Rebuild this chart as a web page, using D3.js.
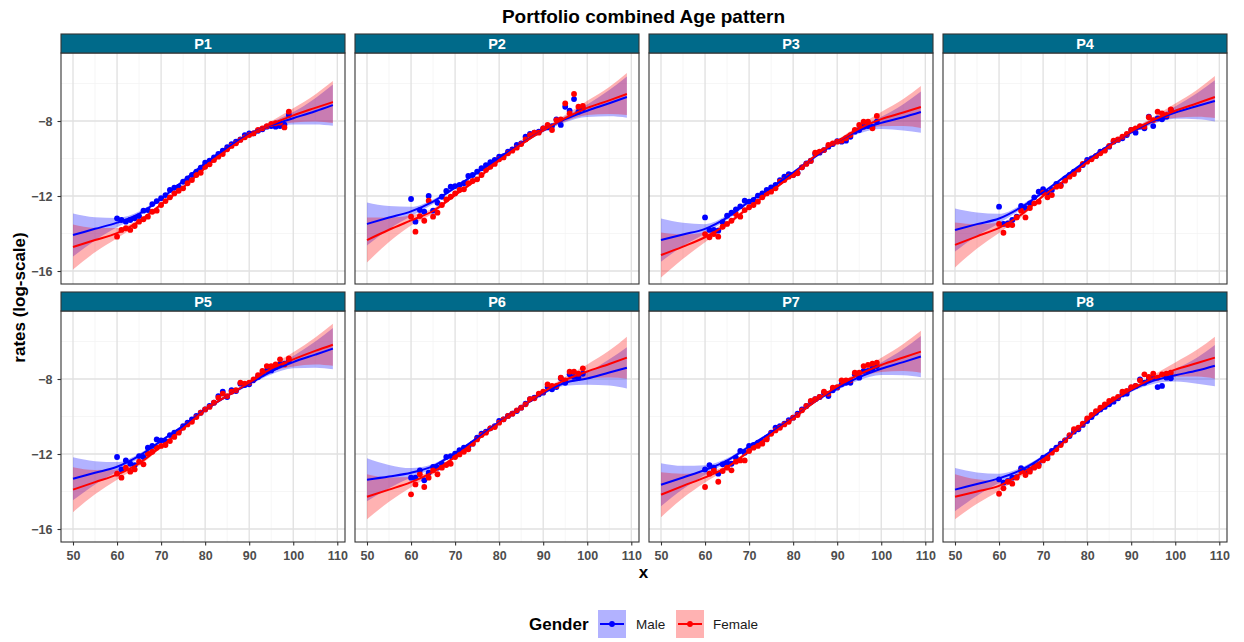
<!DOCTYPE html>
<html>
<head>
<meta charset="utf-8">
<script src="https://d3js.org/d3.v7.min.js"></script>
<style>
  body { margin: 0; background: #fff; }
  text { font-family: "Liberation Sans", Arial, sans-serif; }
</style>
</head>
<body>
<div id="chart"></div>
<script>

// ages of the observed points
var ages = [60,61,62,63,64,65,66,67,68,69,70,71,72,73,74,75,76,77,78,79,
            80,81,82,83,84,85,86,87,88,89,90,91,92,93,94,95,96,97,98,99];

// observed log rates per portfolio
var p1Male   = [-13.19,-13.28,-13.37,-13.28,-13.19,-13.07,-12.78,-12.75,-12.43,-12.27,-12.12,-11.95,-11.68,-11.56,-11.5,-11.24,-11.06,-10.88,-10.7,-10.49,
                -10.22,-10.12,-9.94,-9.76,-9.58,-9.4,-9.24,-9.1,-8.98,-8.75,-8.66,-8.66,-8.52,-8.44,-8.3,-8.27,-8.3,-8.27,-8.2,-7.68];
var p1Female = [-14.17,-13.81,-13.72,-13.81,-13.6,-13.37,-13.24,-13.1,-12.84,-12.78,-12.48,-12.27,-12.07,-11.86,-11.72,-11.59,-11.32,-11.15,-10.88,-10.76,
                -10.44,-10.31,-10.08,-9.9,-9.76,-9.51,-9.33,-9.19,-9.01,-8.87,-8.75,-8.66,-8.48,-8.39,-8.27,-8.16,-8.12,-8.09,-8.34,-7.5];
var p2Male   = [-12.16,-13.37,-12.75,-12.84,-12.0,-12.78,-12.36,-12.04,-11.73,-11.5,-11.47,-11.41,-11.32,-10.93,-10.88,-10.7,-10.52,-10.35,-10.2,-10.08,
                -9.9,-9.87,-9.64,-9.51,-9.28,-9.19,-8.84,-8.69,-8.62,-8.57,-8.39,-8.34,-8.27,-7.91,-8.21,-7.24,-7.45,-6.83,-7.5,-7.32];
var p2Female = [-13.1,-13.9,-13.07,-13.32,-12.25,-13.1,-12.89,-12.48,-12.18,-12.04,-11.86,-11.68,-11.64,-11.32,-11.2,-11.11,-10.88,-10.61,-10.44,-10.29,
                -10.04,-9.94,-9.72,-9.58,-9.42,-9.23,-8.98,-8.75,-8.62,-8.62,-8.39,-8.21,-8.48,-7.95,-7.91,-7.06,-7.59,-6.56,-7.24,-7.2];
var p3Male   = [-13.14,-13.81,-13.81,-13.85,-13.4,-13.05,-12.89,-12.71,-12.55,-12.25,-12.3,-12.21,-11.98,-11.86,-11.68,-11.54,-11.41,-11.15,-10.97,-10.83,
                -10.88,-10.76,-10.47,-10.26,-10.12,-9.76,-9.69,-9.55,-9.37,-9.23,-9.07,-9.1,-9.05,-8.84,-8.57,-8.48,-8.3,-8.27,-8.3,-8.04];
var p3Female = [-14.03,-14.2,-14.03,-14.17,-13.64,-13.49,-13.32,-12.96,-13.1,-12.75,-12.6,-12.48,-12.3,-12.07,-11.86,-11.77,-11.59,-11.24,-11.15,-10.97,
                -10.88,-10.79,-10.47,-10.29,-10.13,-9.69,-9.64,-9.55,-9.28,-9.19,-9.1,-9.05,-8.92,-8.75,-8.48,-8.21,-8.04,-8.04,-8.39,-7.73];
var p4Male   = [-12.57,-13.49,-13.46,-13.28,-13.1,-12.53,-12.64,-12.39,-12.07,-11.77,-11.64,-11.82,-11.68,-11.36,-11.41,-11.06,-10.88,-10.7,-10.58,-10.35,
                -10.08,-9.99,-9.87,-9.64,-9.55,-9.37,-9.1,-9.01,-8.92,-8.75,-8.48,-8.62,-8.3,-8.39,-7.77,-8.27,-7.86,-7.91,-7.77,-7.41];
var p4Female = [-13.49,-13.96,-13.55,-13.55,-13.14,-12.78,-13.14,-12.64,-12.39,-12.3,-11.82,-12.07,-11.95,-11.5,-11.47,-11.18,-10.97,-10.83,-10.58,-10.29,
                -10.17,-10.04,-9.87,-9.72,-9.58,-9.33,-9.05,-8.98,-8.84,-8.69,-8.48,-8.39,-8.27,-8.3,-7.8,-7.95,-7.5,-7.59,-7.68,-7.38];
var p5Male   = [-12.16,-12.82,-12.34,-12.52,-12.59,-12.11,-12.16,-11.66,-11.57,-11.22,-11.27,-11.31,-10.99,-10.86,-10.81,-10.51,-10.33,-10.15,-9.97,-9.8,
                -9.62,-9.44,-9.26,-8.91,-8.68,-8.96,-8.6,-8.64,-8.25,-8.32,-8.28,-8.07,-7.89,-7.72,-7.54,-7.54,-7.36,-7.22,-7.18,-7.04];
var p5Female = [-13.05,-13.26,-12.73,-12.94,-12.82,-12.41,-12.55,-11.98,-11.88,-11.66,-11.57,-11.52,-11.31,-11.09,-10.86,-10.6,-10.42,-10.28,-10.03,-9.8,
                -9.62,-9.49,-9.26,-9.0,-8.78,-8.91,-8.68,-8.6,-8.2,-8.25,-8.2,-8.02,-7.79,-7.57,-7.31,-7.31,-7.22,-6.95,-7.22,-6.9];
var p6Male   = [-13.26,-13.26,-12.87,-13.4,-13.0,-12.69,-12.73,-12.52,-12.16,-12.11,-11.98,-11.8,-11.66,-11.63,-11.45,-11.13,-10.92,-10.81,-10.63,-10.51,
                -10.24,-10.15,-9.97,-9.85,-9.71,-9.53,-9.32,-9.08,-9.0,-8.82,-8.73,-8.43,-8.55,-8.43,-7.96,-8.2,-7.75,-7.89,-7.93,-7.72];
var p6Female = [-14.15,-13.62,-13.08,-13.76,-13.26,-12.87,-13.08,-12.73,-12.59,-12.52,-12.16,-12.02,-11.88,-11.75,-11.45,-11.22,-10.99,-10.86,-10.63,-10.56,
                -10.33,-10.15,-9.97,-9.85,-9.67,-9.53,-9.35,-9.08,-9.03,-8.78,-8.68,-8.29,-8.37,-8.37,-7.93,-8.07,-7.61,-7.61,-7.72,-7.43];
var p7Male   = [-12.82,-12.59,-12.73,-13.05,-12.55,-12.46,-12.52,-12.2,-11.84,-11.93,-11.57,-11.52,-11.4,-11.31,-11.13,-10.86,-10.6,-10.51,-10.38,-10.2,
                -10.06,-9.85,-9.62,-9.44,-9.21,-9.08,-8.96,-8.73,-8.91,-8.6,-8.46,-8.28,-8.2,-8.2,-7.75,-7.93,-7.57,-7.57,-7.43,-7.31];
var p7Female = [-13.76,-13.05,-12.87,-13.48,-12.91,-12.73,-12.87,-12.41,-12.34,-12.34,-11.84,-11.66,-11.57,-11.45,-11.22,-10.92,-10.74,-10.6,-10.42,-10.28,
                -10.06,-9.92,-9.67,-9.44,-9.17,-9.08,-8.96,-8.68,-8.78,-8.46,-8.43,-8.07,-8.07,-8.07,-7.66,-7.66,-7.31,-7.25,-7.18,-7.13];
var p8Male   = [-13.35,-13.53,-13.44,-13.26,-13.23,-12.76,-12.91,-12.82,-12.64,-12.55,-12.2,-12.11,-11.84,-11.66,-11.45,-11.27,-11.04,-10.81,-10.68,-10.45,
                -10.24,-10.03,-9.8,-9.62,-9.49,-9.35,-9.21,-9.03,-8.82,-8.78,-8.46,-8.37,-8.02,-8.2,-8.02,-7.93,-8.43,-8.37,-7.93,-7.96];
var p8Female = [-14.12,-13.83,-13.48,-13.58,-13.26,-12.91,-13.12,-12.94,-12.73,-12.64,-12.34,-12.23,-11.93,-11.75,-11.52,-11.27,-10.99,-10.68,-10.6,-10.38,
                -10.1,-9.92,-9.71,-9.53,-9.35,-9.17,-9.08,-8.96,-8.68,-8.64,-8.43,-8.37,-8.07,-7.75,-7.89,-7.72,-7.93,-7.75,-7.72,-7.66];

// smoothed fit, read at these ages
var fitAges = [50,55,60,65,70,75,80,85,90,95,100,105,109];
var p1MaleFit   = [-14.08,-13.75,-13.42,-12.95,-12.15,-11.2,-10.25,-9.42,-8.7,-8.22,-7.85,-7.48,-7.15];
var p1FemaleFit = [-14.72,-14.35,-13.98,-13.35,-12.45,-11.55,-10.5,-9.55,-8.75,-8.18,-7.7,-7.3,-6.99];
var p2MaleFit   = [-13.49,-13.15,-12.82,-12.3,-11.55,-10.75,-9.95,-9.2,-8.5,-7.9,-7.45,-7.05,-6.72];
var p2FemaleFit = [-14.35,-13.8,-13.3,-12.8,-11.95,-11.1,-10.1,-9.25,-8.5,-7.85,-7.3,-6.9,-6.56];
var p3MaleFit   = [-14.35,-14.05,-13.75,-13.15,-12.3,-11.55,-10.75,-9.9,-9.1,-8.5,-8.1,-7.8,-7.52];
var p3FemaleFit = [-15.15,-14.7,-14.2,-13.5,-12.6,-11.75,-10.85,-9.85,-9.1,-8.4,-7.9,-7.55,-7.25];
var p4MaleFit   = [-13.81,-13.5,-13.2,-12.6,-11.8,-10.95,-10.1,-9.3,-8.6,-8.0,-7.55,-7.2,-6.93];
var p4FemaleFit = [-14.61,-14.15,-13.7,-13.0,-12.0,-11.15,-10.2,-9.35,-8.55,-7.95,-7.45,-7.05,-6.72];
var p5MaleFit   = [-13.32,-13.0,-12.68,-12.1,-11.3,-10.5,-9.65,-8.9,-8.25,-7.6,-7.1,-6.7,-6.38];
var p5FemaleFit = [-13.9,-13.5,-13.1,-12.5,-11.6,-10.65,-9.65,-8.9,-8.2,-7.45,-6.95,-6.5,-6.17];
var p6MaleFit   = [-13.37,-13.2,-13.0,-12.65,-11.95,-11.15,-10.3,-9.5,-8.75,-8.2,-7.97,-7.65,-7.4];
var p6FemaleFit = [-14.28,-13.9,-13.5,-12.95,-12.15,-11.25,-10.35,-9.5,-8.7,-8.05,-7.6,-7.2,-6.86];
var p7MaleFit   = [-13.64,-13.25,-12.85,-12.35,-11.6,-10.85,-10.05,-9.2,-8.5,-7.9,-7.45,-7.1,-6.8];
var p7FemaleFit = [-14.17,-13.7,-13.25,-12.7,-11.85,-10.95,-10.1,-9.2,-8.4,-7.75,-7.25,-6.85,-6.54];
var p8MaleFit   = [-13.9,-13.6,-13.3,-12.85,-12.15,-11.25,-10.25,-9.35,-8.6,-8.1,-7.8,-7.55,-7.29];
var p8FemaleFit = [-14.28,-14.0,-13.7,-13.05,-12.3,-11.3,-10.2,-9.3,-8.55,-7.95,-7.5,-7.15,-6.86];

// half width of the confidence band at fitAges
var maleBand   = [1.15,0.62,0.25,0.12,0.08,0.07,0.07,0.07,0.09,0.16,0.33,0.7,1.1];
var femaleBand = [1.2,0.65,0.27,0.13,0.08,0.07,0.07,0.07,0.09,0.17,0.38,0.72,1.12];

var panelNames = ["P1","P2","P3","P4","P5","P6","P7","P8"];
var genders = ["Male","Female"];
var xTicks = [50,60,70,80,90,100,110];
var xMinor = [55,65,75,85,95,105];
var yTicks = [-8,-12,-16];
var yMinor = [-6,-10,-14];

var panels = [
  {name: panelNames[0], m: p1Male, f: p1Female, mFit: p1MaleFit, fFit: p1FemaleFit},
  {name: panelNames[1], m: p2Male, f: p2Female, mFit: p2MaleFit, fFit: p2FemaleFit},
  {name: panelNames[2], m: p3Male, f: p3Female, mFit: p3MaleFit, fFit: p3FemaleFit},
  {name: panelNames[3], m: p4Male, f: p4Female, mFit: p4MaleFit, fFit: p4FemaleFit},
  {name: panelNames[4], m: p5Male, f: p5Female, mFit: p5MaleFit, fFit: p5FemaleFit},
  {name: panelNames[5], m: p6Male, f: p6Female, mFit: p6MaleFit, fFit: p6FemaleFit},
  {name: panelNames[6], m: p7Male, f: p7Female, mFit: p7MaleFit, fFit: p7FemaleFit},
  {name: panelNames[7], m: p8Male, f: p8Female, mFit: p8MaleFit, fFit: p8FemaleFit}
];

var colors = {Male: "#0000ff", Female: "#ff0000"};
var fills = {Male: "rgba(0,0,255,0.3)", Female: "rgba(255,0,0,0.3)"};

var width = 1244, height = 642;
var panelW = 284, panelH = 231, stripH = 19;
var colX = [61, 355, 649, 943];
var rowY = [53, 311];

var svg = d3.select("#chart")
  .append("svg")
  .attr("width", width)
  .attr("height", height);

var x = d3.scaleLinear().domain([47.276, 111.75]).range([0, panelW]);
var y = d3.scaleLinear().domain([-16.693, -4.373]).range([panelH, 0]);

var line = d3.line()
  .x(function(d) { return x(d.age); })
  .y(function(d) { return y(d.fit); })
  .curve(d3.curveMonotoneX);

var band = d3.area()
  .x(function(d) { return x(d.age); })
  .y0(function(d) { return y(d.fit - d.se); })
  .y1(function(d) { return y(d.fit + d.se); })
  .curve(d3.curveMonotoneX);

function smoothPoints(p, gd) {
  var fit = gd == "Male" ? p.mFit : p.fFit;
  var se = gd == "Male" ? maleBand : femaleBand;
  return fitAges.map(function(a, k) { return {age: a, fit: fit[k], se: se[k]}; });
}

panels.forEach(function(p, i) {
  var col = i % 4, row = Math.floor(i / 4);
  var g = svg.append("g")
    .attr("transform", "translate(" + colX[col] + "," + rowY[row] + ")");

  g.append("rect").attr("width", panelW).attr("height", panelH).attr("fill", "#fff");

  // grid
  g.selectAll(".xminor").data(xMinor).enter().append("line")
    .attr("x1", d => x(d)).attr("x2", d => x(d)).attr("y1", 0).attr("y2", panelH)
    .attr("stroke", "#f2f2f2").attr("stroke-width", 0.7);
  g.selectAll(".yminor").data(yMinor).enter().append("line")
    .attr("y1", d => y(d)).attr("y2", d => y(d)).attr("x1", 0).attr("x2", panelW)
    .attr("stroke", "#f2f2f2").attr("stroke-width", 0.7);
  g.selectAll(".xmajor").data(xTicks).enter().append("line")
    .attr("x1", d => x(d)).attr("x2", d => x(d)).attr("y1", 0).attr("y2", panelH)
    .attr("stroke", "#e0e0e0").attr("stroke-width", 1.3);
  g.selectAll(".ymajor").data(yTicks).enter().append("line")
    .attr("y1", d => y(d)).attr("y2", d => y(d)).attr("x1", 0).attr("x2", panelW)
    .attr("stroke", "#e0e0e0").attr("stroke-width", 1.3);

  g.append("clipPath").attr("id", "clip" + i)
    .append("rect").attr("width", panelW).attr("height", panelH);
  var inner = g.append("g").attr("clip-path", "url(#clip" + i + ")");

  // confidence bands
  genders.forEach(function(gd) {
    inner.append("path").datum(smoothPoints(p, gd)).attr("d", band).attr("fill", fills[gd]);
  });

  // points
  genders.forEach(function(gd) {
    var vals = gd == "Male" ? p.m : p.f;
    inner.append("g").selectAll("circle")
      .data(vals)
      .enter()
      .append("circle")
      .attr("cx", function(d, k) { return x(ages[k]); })
      .attr("cy", function(d) { return y(d); })
      .attr("r", 2.9)
      .attr("fill", colors[gd]);
  });

  // fitted lines
  genders.forEach(function(gd) {
    inner.append("path").datum(smoothPoints(p, gd)).attr("d", line)
      .attr("fill", "none").attr("stroke", colors[gd]).attr("stroke-width", 2);
  });

  g.append("rect").attr("width", panelW).attr("height", panelH)
    .attr("fill", "none").attr("stroke", "#333").attr("stroke-width", 1.1);

  // strip
  g.append("rect").attr("y", -stripH).attr("width", panelW).attr("height", stripH)
    .attr("fill", "#006a8a").attr("stroke", "#333").attr("stroke-width", 1.1);
  g.append("text").attr("x", panelW / 2).attr("y", -4.5)
    .attr("text-anchor", "middle").attr("fill", "#fff")
    .style("font-size", "14.5px").style("font-weight", "bold")
    .text(p.name);

  if (row == 1) {
    var ax = g.append("g").attr("transform", "translate(0," + panelH + ")")
      .call(d3.axisBottom(x).tickValues(xTicks).tickSize(3.5).tickPadding(6));
    styleAxis(ax);
  }
  if (col == 0) {
    var ay = g.append("g")
      .call(d3.axisLeft(y).tickValues(yTicks).tickSize(3.5).tickPadding(5));
    styleAxis(ay);
  }
});

function styleAxis(a) {
  a.select(".domain").remove();
  a.selectAll(".tick line").attr("stroke", "#333").attr("stroke-width", 1.1);
  a.selectAll(".tick text")
    .attr("fill", "#4d4d4d")
    .style("font-size", "12.5px")
    .style("font-weight", "bold")
    .style("font-family", "Liberation Sans, Arial, sans-serif");
}

// titles
svg.append("text").attr("x", 643.5).attr("y", 22.5)
  .attr("text-anchor", "middle")
  .style("font-size", "19px").style("font-weight", "bold")
  .text("Portfolio combined Age pattern");

svg.append("text")
  .attr("transform", "translate(25,297.5) rotate(-90)")
  .attr("text-anchor", "middle")
  .style("font-size", "17px").style("font-weight", "bold")
  .text("rates (log-scale)");

svg.append("text").attr("x", 643.5).attr("y", 578)
  .attr("text-anchor", "middle")
  .style("font-size", "17px").style("font-weight", "bold")
  .text("x");

// legend
var leg = svg.append("g");
leg.append("text").attr("x", 529).attr("y", 630)
  .style("font-size", "17px").style("font-weight", "bold")
  .text("Gender");
var keyX = [598, 676], labX = [636, 713];
genders.forEach(function(gd, k) {
  leg.append("rect").attr("x", keyX[k]).attr("y", 610).attr("width", 28).attr("height", 28)
    .attr("fill", fills[gd]);
  leg.append("line").attr("x1", keyX[k] + 2).attr("x2", keyX[k] + 26)
    .attr("y1", 624).attr("y2", 624)
    .attr("stroke", colors[gd]).attr("stroke-width", 2);
  leg.append("circle").attr("cx", keyX[k] + 14).attr("cy", 624).attr("r", 2.9)
    .attr("fill", colors[gd]);
  leg.append("text").attr("x", labX[k]).attr("y", 629)
    .style("font-size", "13.5px").attr("fill", "#1a1a1a")
    .text(gd);
});

</script>
</body>
</html>
